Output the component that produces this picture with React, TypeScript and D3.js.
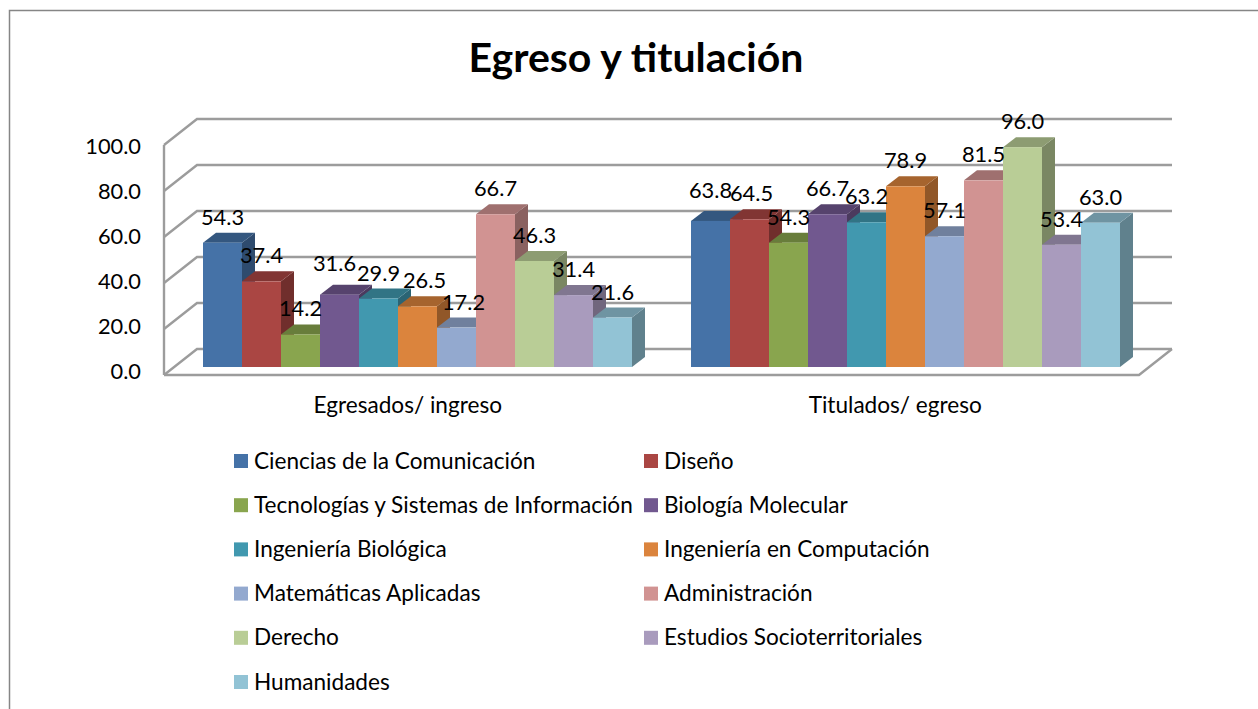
import React from "react";
import * as d3 from "d3";

const title = "Egreso y titulación";
const categories = ["Egresados/ ingreso", "Titulados/ egreso"];
const seriesNames = [
  "Ciencias de la Comunicación",
  "Diseño",
  "Tecnologías y Sistemas de Información",
  "Biología Molecular",
  "Ingeniería Biológica",
  "Ingeniería en Computación",
  "Matemáticas Aplicadas",
  "Administración",
  "Derecho",
  "Estudios Socioterritoriales",
  "Humanidades",
];
const egresados = [54.3, 37.4, 14.2, 31.6, 29.9, 26.5, 17.2, 66.7, 46.3, 31.4, 21.6];
const titulados = [63.8, 64.5, 54.3, 66.7, 63.2, 78.9, 57.1, 81.5, 96.0, 53.4, 63.0];
const colors = ["#4572A7", "#AA4643", "#89A54E", "#71588F", "#4198AF", "#DB843D", "#93A9CF", "#D19392", "#B9CD96", "#A99BBD", "#92C3D5"];
const ticks = [0, 20, 40, 60, 80, 100];

const FONT = "Lato, Carlito, Calibri, sans-serif";
const LABEL_SIZE = 21.8;
const TEXT_SIZE = 22.6;
const GRID = "#9C9C9C";
const DX = 33;
const DY = -26;
const BAR_DX = 13;
const BAR_DY = -10;

// hand-placed data labels in the source (group, series) -> [dx, dy]
const labelNudge: Record<string, [number, number]> = {
  "0-3": [-5, -6],
  "0-5": [7, 0],
  "0-6": [7, 0],
  "1-0": [0, -5],
  "1-1": [2, 0],
};

const wallY = d3.scaleLinear().domain([0, 100]).range([375, 145]);
const barY = d3.scaleLinear().domain([0, 100]).range([367, 138]);
const tickLabelY = d3.scaleLinear().domain([0, 100]).range([379, 154]);
const catX = d3.scaleBand<string>().domain(categories).range([173.5, 1149.5]);
const serX = d3.scaleBand<number>().domain(d3.range(seriesNames.length)).range([0, 429]);
const labelX = d3.scaleBand<string>().domain(categories).range([164, 1139]);
const data = [egresados, titulados];

function shade(c: string, k: number) {
  const r = d3.rgb(c);
  return d3.rgb(r.r * k, r.g * k, r.b * k).formatHex();
}

export default function App() {
  const groupOffset = (catX.bandwidth() - serX.range()[1]) / 2;
  const xOf = (g: number, s: number) => catX(categories[g])! + groupOffset + serX(s)!;
  const w = serX.bandwidth();
  const base = barY(0);
  return (
    <svg width={1258} height={709} style={{ position: "absolute", left: 0, top: 0, display: "block", background: "#fff" }} fontFamily={FONT}>
      <polyline points="9.5,709 9.5,10.5 1258,10.5" fill="none" stroke="#868686" strokeWidth={1.5} />
      <text x={636} y={72} textAnchor="middle" fontSize={41} fontWeight={700} fill="#000">{title}</text>

      <g fill="none" stroke={GRID} strokeWidth={2.4}>
        {ticks.map((t) => (
          <polyline key={t} points={`164,${wallY(t)} ${164 + DX},${wallY(t) + DY} 1172,${wallY(t) + DY}`} />
        ))}
        <line x1={164} x2={164} y1={wallY(0)} y2={wallY(100)} />
        <polyline points={`164,${wallY(0)} 1139,${wallY(0)} 1172,${wallY(0) + DY}`} />
      </g>

      {data.map((vals, g) => (
        <g key={g}>
          {vals.map((v, s) => {
            const x = xOf(g, s);
            const y = barY(v);
            return (
              <g key={s}>
                <path d={`M${x + w},${y}L${x + w + BAR_DX},${y + BAR_DY}L${x + w + BAR_DX},${base + BAR_DY}L${x + w},${base}Z`} fill={shade(colors[s], 0.66)} />
                <path d={`M${x},${y}L${x + BAR_DX},${y + BAR_DY}L${x + w + BAR_DX},${y + BAR_DY}L${x + w},${y}Z`} fill={shade(colors[s], 0.76)} />
                <rect x={x} y={y} width={w} height={base - y} fill={colors[s]} />
              </g>
            );
          })}
        </g>
      ))}

      {data.map((vals, g) =>
        vals.map((v, s) => {
          const n = labelNudge[`${g}-${s}`] ?? [0, 0];
          return (
            <text key={`${g}-${s}`} x={xOf(g, s) + w / 2 + n[0]} y={barY(v) - 18 + n[1]} textAnchor="middle" fontSize={LABEL_SIZE} fill="#000">
              {v.toFixed(1)}
            </text>
          );
        })
      )}

      {ticks.map((t) => (
        <text key={t} x={141} y={tickLabelY(t)} textAnchor="end" fontSize={LABEL_SIZE} fill="#000">{t.toFixed(1)}</text>
      ))}

      {categories.map((c) => (
        <text key={c} x={labelX(c)! + labelX.bandwidth() / 2} y={413} textAnchor="middle" fontSize={TEXT_SIZE} fill="#000">{c}</text>
      ))}

      {seriesNames.map((name, i) => {
        const col = i % 2;
        const row = Math.floor(i / 2);
        const cy = 461 + row * 44.2;
        const sx = col === 0 ? 234 : 644;
        return (
          <g key={name}>
            <rect x={sx} y={cy - 7} width={14} height={14} fill={colors[i]} />
            <text x={sx + 20} y={cy + 7.5} fontSize={TEXT_SIZE} fill="#000">{name}</text>
          </g>
        );
      })}
    </svg>
  );
}
